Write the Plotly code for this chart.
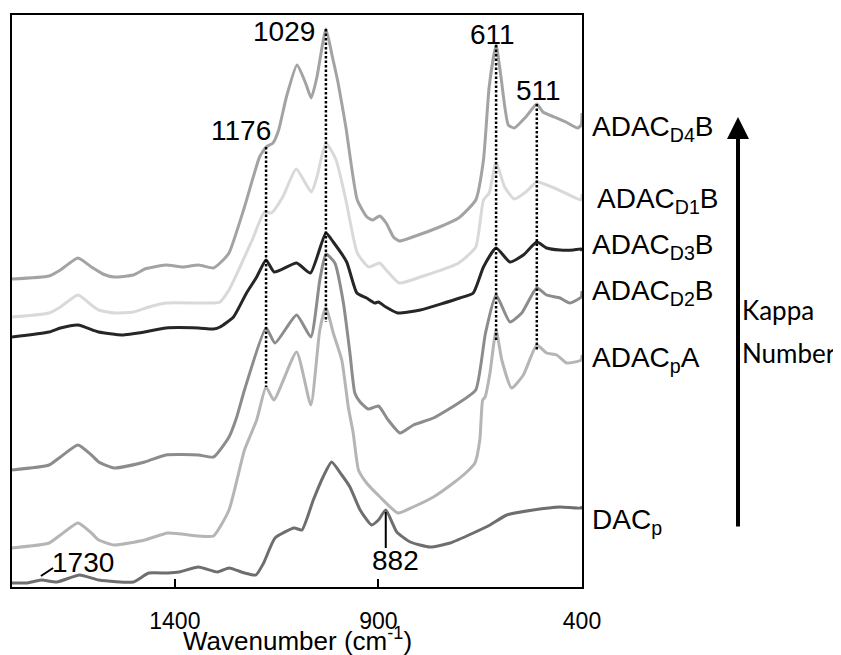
import plotly.graph_objects as go

# ---------------- data (wavenumber in cm-1, stacked intensity in a.u.) ----------------
w_d4b = [1800,1709,1681,1638,1605,1577,1549,1502,1474,1464,1422,1380,1342,1305,1289,1267,1229,1192,1176,1159,1145,1126,1100,1079,1065,1051,1029,1013,999,980,952,928,914,897,881,863,849,816,750,703,661,642,628,611,599,581,566,538,511,496,468,440,411,402,400]
y_d4b = [308,311,317,329,320,313,310,312,318,319,322,320,322,319,324,334,380,430,440,444,457,490,522,504,489,510,558,530,504,460,387,370,367,371,364,350,346,350,360,369,387,427,500,542,510,462,459,470,483,475,470,465,459,462,474]

w_d1b = [1800,1709,1681,1638,1605,1587,1549,1502,1464,1422,1342,1305,1289,1267,1240,1210,1180,1163,1135,1102,1065,1051,1029,1004,980,952,924,897,881,849,797,703,661,642,628,611,590,566,538,511,468,421,402,400]
y_d1b = [270,274,280,292,282,277,274,275,280,284,284,284,285,297,320,347,375,374,390,418,395,410,444,427,387,334,320,324,317,304,310,324,340,387,394,425,400,388,395,405,399,390,387,393]

w_d3b = [1800,1709,1681,1638,1587,1530,1474,1422,1342,1305,1289,1256,1224,1199,1176,1156,1101,1067,1029,1011,978,953,929,909,900,882,853,797,700,667,642,611,577,544,511,487,454,421,402,400]
y_d3b = [250,255,259,262,255,252,255,259,259,258,260,270,294,310,327,315,324,314,354,345,325,294,289,284,285,280,274,277,289,294,320,339,325,332,345,339,337,337,338,336]

w_d2b = [1800,1709,1681,1638,1605,1587,1549,1474,1422,1342,1305,1267,1248,1229,1176,1154,1101,1066,1044,1029,1007,986,970,958,945,925,900,876,847,814,765,703,661,637,611,577,548,511,487,454,430,402,400]
y_d2b = [117,122,130,142,132,125,119,125,132,132,130,150,170,197,259,244,272,250,307,333,324,284,234,194,185,178,181,167,154,162,169,184,197,254,292,265,274,299,292,289,284,290,296]

w_pa = [1800,1709,1681,1638,1605,1587,1549,1474,1417,1342,1305,1267,1229,1199,1176,1157,1101,1066,1044,1029,1011,990,974,962,949,929,896,852,815,765,716,683,663,651,644,638,626,611,597,573,544,511,487,462,438,402,400]
y_pa = [39,44,52,64,54,47,42,47,54,51,51,77,137,167,200,187,235,182,257,280,254,227,180,154,117,104,90,74,80,90,104,115,124,147,187,190,214,257,227,199,212,242,234,232,224,227,232]

w_dacp = [1800,1765,1728,1690,1634,1587,1502,1464,1417,1389,1342,1295,1267,1229,1201,1182,1154,1107,1088,1060,1036,1015,990,970,945,917,900,882,855,822,773,724,667,626,585,520,454,402,400]
y_dacp = [4,4,7,5,12,7,5,14,14,15,20,15,19,14,12,24,49,59,57,87,110,125,112,100,77,62,67,77,55,45,40,44,54,62,72,77,80,79,81]

peak_pos = [1176, 1029, 611, 511]
peak_top = [440, 558, 542, 483]
peak_bottom = [200, 265, 247, 237]
peak_label_x = [1159, 1051, 619, 506]
peak_label_y = [457, 556, 553, 497]

x_ticks = [1400, 900, 400]

series_names = ["DAC<sub>p</sub>", "ADAC<sub>p</sub>A", "ADAC<sub>D2</sub>B",
                "ADAC<sub>D3</sub>B", "ADAC<sub>D1</sub>B", "ADAC<sub>D4</sub>B"]
series_label_y = [66, 228, 295, 341, 387, 459]
series_colors = ["#6e6e6e", "#b5b5b5", "#8c8c8c", "#262626", "#d9d9d9", "#a3a3a3"]
series_w = [w_dacp, w_pa, w_d2b, w_d3b, w_d1b, w_d4b]
series_y = [y_dacp, y_pa, y_d2b, y_d3b, y_d1b, y_d4b]

FONT = "Liberation Sans, Arial, sans-serif"
KFONT = "Lato, Carlito, sans-serif"

fig = go.Figure()
for name, col, xs, ys in zip(series_names, series_colors, series_w, series_y):
    fig.add_trace(go.Scatter(x=xs, y=ys, mode="lines", name=name,
                             line=dict(color=col, width=3, shape="spline", smoothing=0.5),
                             showlegend=False, hoverinfo="skip"))

# dotted peak guides
for px, top, bot in zip(peak_pos, peak_top, peak_bottom):
    fig.add_trace(go.Scatter(x=[px, px], y=[top, bot], mode="lines",
                             line=dict(color="black", width=2.5, dash="2.5px,2px"),
                             showlegend=False, hoverinfo="skip"))

annotations = []
for px, lx, ly in zip(peak_pos, peak_label_x, peak_label_y):
    anchor = "right" if px > 1000 else "center"
    annotations.append(dict(x=lx, y=ly, xref="x", yref="y", text=str(px), showarrow=False,
                            xanchor=anchor, yanchor="middle",
                            font=dict(family=FONT, size=28, color="black")))

# 882 marker and 1730 marker
fig.add_trace(go.Scatter(x=[882, 882], y=[75, 39], mode="lines",
                         line=dict(color="black", width=2), showlegend=False, hoverinfo="skip"))
fig.add_trace(go.Scatter(x=[1729, 1699], y=[11, 19], mode="lines",
                         line=dict(color="black", width=2), showlegend=False, hoverinfo="skip"))
annotations.append(dict(x=859, y=27, xref="x", yref="y", text="882", showarrow=False,
                        xanchor="center", yanchor="middle",
                        font=dict(family=FONT, size=28, color="black")))
annotations.append(dict(x=1626, y=25, xref="x", yref="y", text="1730", showarrow=False,
                        xanchor="center", yanchor="middle",
                        font=dict(family=FONT, size=28, color="black")))

# series labels at right
for name, ly in zip(series_names, series_label_y):
    xoff = 1.023 if "D1" in name else 1.014
    annotations.append(dict(x=xoff, y=ly, xref="paper", yref="y", text=name, showarrow=False,
                            xanchor="left", yanchor="middle",
                            font=dict(family=FONT, size=28, color="black")))

# Kappa number arrow
annotations.append(dict(x=1.2737, y=470, xref="paper", yref="y", text="", showarrow=True,
                        ax=0, ay=411, axref="pixel", ayref="pixel",
                        arrowhead=2, arrowsize=1.1, arrowwidth=4, arrowcolor="black"))
annotations.append(dict(x=1.2775, y=277, xref="paper", yref="y", text="Kappa", showarrow=False,
                        xanchor="left", yanchor="middle",
                        font=dict(family=KFONT, size=26, color="black")))
annotations.append(dict(x=1.2775, y=234, xref="paper", yref="y", text="Number", showarrow=False,
                        xanchor="left", yanchor="middle",
                        font=dict(family=KFONT, size=26, color="black")))

# axis title
annotations.append(dict(x=0.5, y=-0.092, xref="paper", yref="paper",
                        text="Wavenumber (cm<sup>-1</sup>)", showarrow=False,
                        xanchor="center", yanchor="middle",
                        font=dict(family=FONT, size=26, color="black")))

# page has an 8px body margin, so the figure is 8px smaller and margins shifted
fig.update_layout(
    width=833, height=647,
    margin=dict(l=4, r=259, t=7, b=68),
    paper_bgcolor="white", plot_bgcolor="white",
    annotations=annotations,
    xaxis=dict(range=[1800, 400], tickvals=x_ticks, ticktext=[str(t) for t in x_ticks],
               ticks="inside", ticklen=8, tickwidth=2, tickcolor="black",
               showline=True, linecolor="black", linewidth=2, mirror=True,
               showgrid=False, zeroline=False, ticklabelstandoff=12,
               tickfont=dict(family=FONT, size=23, color="black")),
    yaxis=dict(range=[0, 572], showticklabels=False, ticks="",
               showline=True, linecolor="black", linewidth=2, mirror=True,
               showgrid=False, zeroline=False),
)

fig.write_html("out.html", config={"displayModeBar": False})
